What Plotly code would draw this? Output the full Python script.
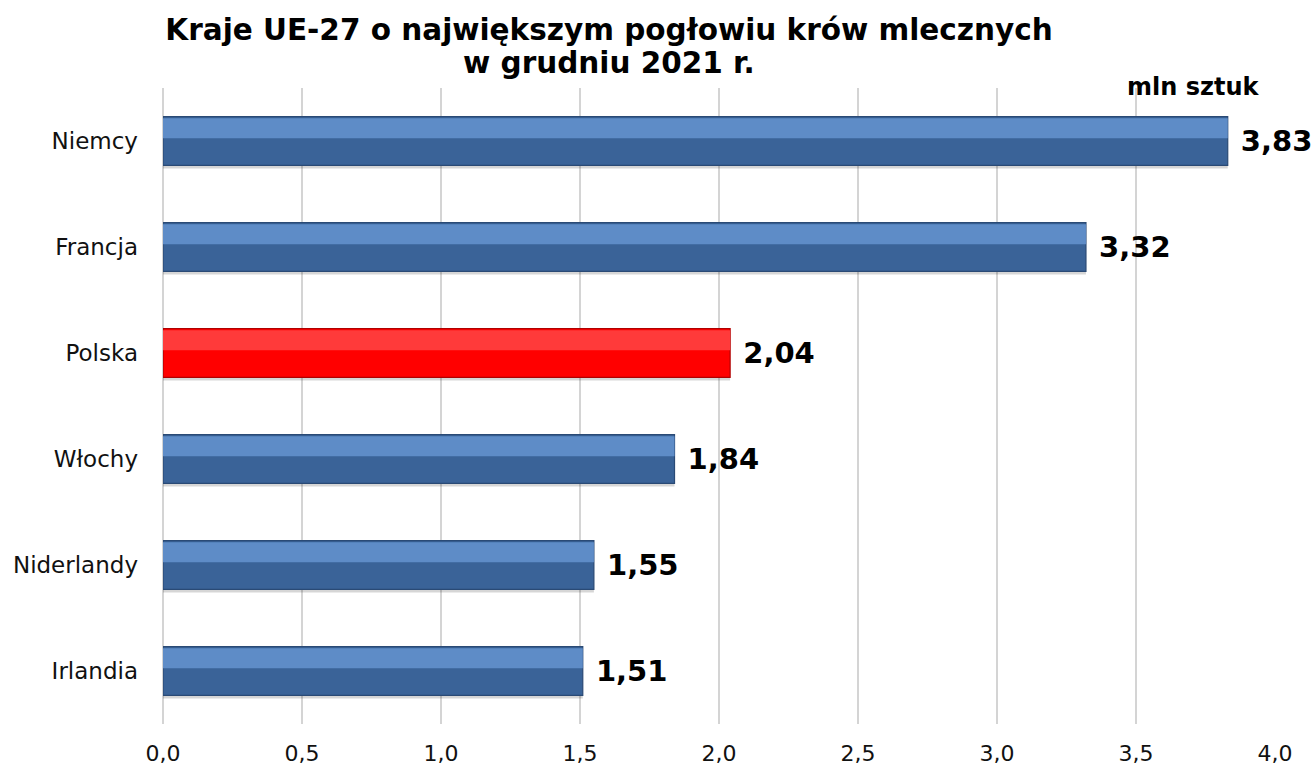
import plotly.graph_objects as go

countries = ["Niemcy", "Francja", "Polska", "Włochy", "Niderlandy", "Irlandia"]
values = [3.83, 3.32, 2.04, 1.84, 1.55, 1.51]
title_line1 = "<b>Kraje UE-27 o największym pogłowiu krów mlecznych</b>"
title_line2 = "<b>w grudniu 2021 r.</b>"
unit_label = "<b>mln sztuk</b>"
x_ticks = [0, 0.5, 1.0, 1.5, 2.0, 2.5, 3.0, 3.5, 4.0]

FONT = "Verdana, DejaVu Sans"
base_cols = ["#FF0000" if c == "Polska" else "#3A6398" for c in countries]
edge_cols = ["#B00000" if c == "Polska" else "#2A4A75" for c in countries]
hi_cols = ["#FF3A3A" if c == "Polska" else "#5E8CC7" for c in countries]

fig = go.Figure()
# shadow
fig.add_trace(go.Bar(
    y=countries, x=values, orientation="h", width=0.46, offset=-0.20,
    marker=dict(color="rgba(0,0,0,0.16)", line=dict(width=0)),
    hoverinfo="skip", showlegend=False))
# main bar
fig.add_trace(go.Bar(
    y=countries, x=values, orientation="h", width=0.46, offset=-0.23,
    marker=dict(color=base_cols, line=dict(color=edge_cols, width=1.2)),
    texttemplate="\u00a0%{x:.2f}", textposition="outside", cliponaxis=False,
    textfont=dict(family=FONT, size=29, color="black", weight="bold"),
    showlegend=False))
# highlight strip (upper part)
fig.add_trace(go.Bar(
    y=countries, x=values, orientation="h", width=0.19, offset=-0.215,
    marker=dict(color=hi_cols, line=dict(width=0)),
    hoverinfo="skip", showlegend=False))

fig.update_layout(
    width=1314, height=767,
    barmode="overlay",
    separators=",.",
    plot_bgcolor="white", paper_bgcolor="white",
    margin=dict(l=163, r=39, t=88, b=43),
    font=dict(family=FONT, color="#111"),
    title=dict(text=title_line1, xref="container", x=0.4635, xanchor="center",
               yref="container", y=1 - 30 / 767, yanchor="middle",
               font=dict(family=FONT, size=29.5, color="black")),
    xaxis=dict(range=[0, 4.0], tickvals=x_ticks, tickformat=".1f",
               showgrid=True, gridcolor="#D4D4D4", gridwidth=2,
               zeroline=True, zerolinecolor="#D4D4D4", zerolinewidth=2,
               showline=False, ticks="", ticklabelstandoff=14, automargin=False,
               tickfont=dict(size=22, color="#111")),
    yaxis=dict(categoryorder="array", categoryarray=countries, autorange="reversed",
               showgrid=False, zeroline=False, showline=False, ticks="",
               ticklabelstandoff=24, automargin=False,
               tickfont=dict(size=23, color="#111")),
    annotations=[
        dict(text=title_line2, xref="paper", yref="paper", x=(609 - 163) / 1112,
             y=(724 - 63) / 636, xanchor="center", yanchor="middle", showarrow=False,
             font=dict(family=FONT, size=29.5, color="black")),
        dict(text=unit_label, xref="paper", yref="paper", x=0.987, y=1.0,
             xanchor="right", yanchor="bottom", yshift=-15, showarrow=False,
             font=dict(family=FONT, size=24, color="black")),
    ],
)

fig.write_html("out.html", config={"displayModeBar": False},
               post_script="document.body.style.margin='0';document.body.style.overflow='hidden';")
